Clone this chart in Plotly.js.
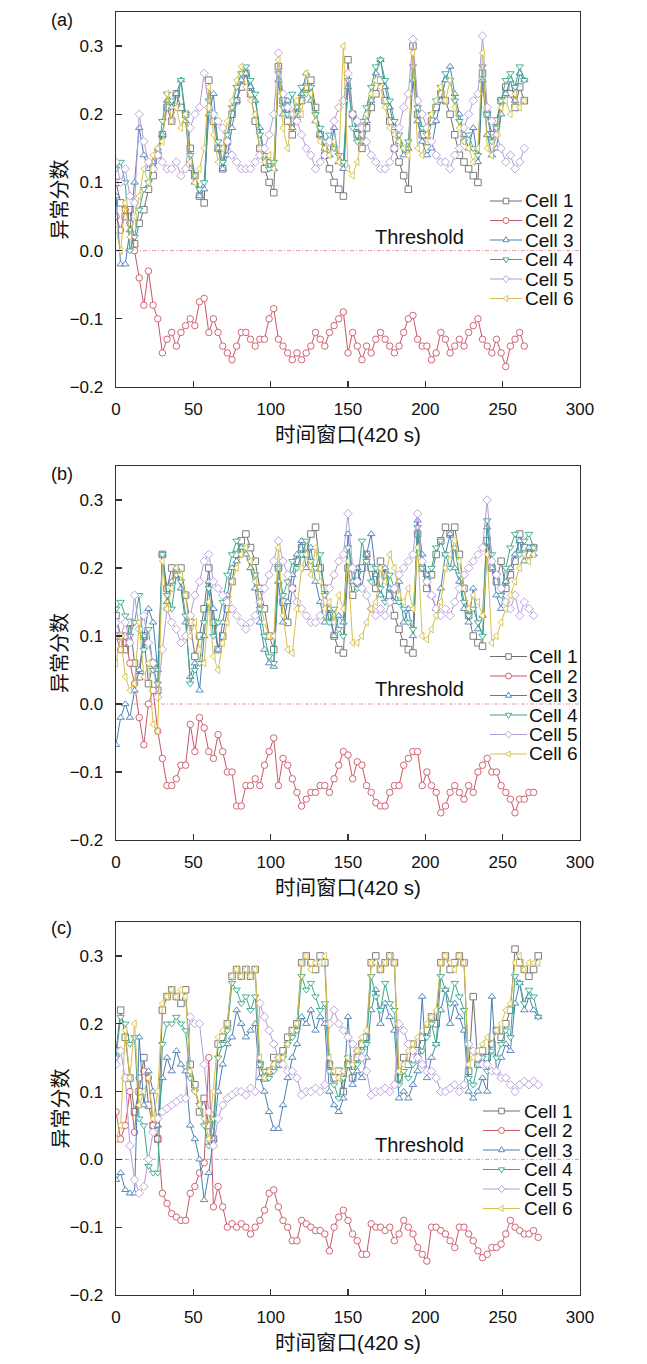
<!DOCTYPE html>
<html><head><meta charset="utf-8">
<script src="https://cdn.plot.ly/plotly-3.0.1.min.js"></script>
<style>html,body{margin:0;padding:0;background:#fff}#chart{width:647px;height:1364px}</style>
</head><body><div id="chart"></div>
<script>
// ---------- text / ticks ----------
const cellNames = ['Cell 1','Cell 2','Cell 3','Cell 4','Cell 5','Cell 6'];
const panelLabels = ['(a)','(b)','(c)'];
const xTitle = '时间窗口(420 s)';
const yTitle = '异常分数';
const thresholdLabel = 'Threshold';
const xTickVals = [0,50,100,150,200,250,300];
const yTickVals = [-0.2,-0.1,0,0.1,0.2,0.3];
const yTickText = ['\u22120.2','\u22120.1','0.0','0.1','0.2','0.3'];
const thresholdX = [0,300];
const thresholdY = [0,0];

// ---------- panel (a) ----------
const tA = [0,3,6,9,12,15,18,21,24,27,30,33,36,39,42,45,48,51,54,57,60,63,66,69,72,75,78,81,84,87,90,93,96,99,102,105,108,111,114,117,120,123,126,129,132,135,138,141,144,147,150,153,156,159,162,165,168,171,174,177,180,183,186,189,192,195,198,201,204,207,210,213,216,219,222,225,228,231,234,237,240,243,246,249,252,255,258,261,264];
const a1 = [0.10,0.07,0.05,0.06,0.01,0.04,0.06,0.09,0.11,0.14, 0.17,0.21,0.19,0.23,0.21,0.20,0.15,0.11,0.08,0.07, 0.25,0.19,0.15,0.12,0.16,0.20,0.22,0.24,0.26,0.23, 0.19,0.15,0.12,0.10,0.085,0.27,0.22,0.19,0.17,0.20, 0.22,0.24,0.25,0.21,0.17,0.14,0.12,0.10,0.09,0.08, 0.28,0.20,0.17,0.15,0.18,0.21,0.23,0.25,0.22,0.19, 0.15,0.13,0.11,0.09,0.30,0.20,0.17,0.16,0.19,0.21, 0.23,0.22,0.20,0.17,0.14,0.13,0.12,0.11,0.10,0.26, 0.20,0.17,0.19,0.22,0.24,0.23,0.21,0.24,0.22];
const a2 = [0.05,0.03,0.06,0.04,0.00,-0.04,-0.08,-0.03,-0.08,-0.10, -0.15,-0.13,-0.12,-0.14,-0.12,-0.11,-0.10,-0.11,-0.075,-0.07, -0.12,-0.10,-0.12,-0.14,-0.15,-0.16,-0.14,-0.12,-0.12,-0.13, -0.14,-0.13,-0.13,-0.10,-0.085,-0.13,-0.14,-0.15,-0.16,-0.15, -0.16,-0.15,-0.14,-0.12,-0.13,-0.14,-0.12,-0.11,-0.10,-0.09, -0.15,-0.12,-0.14,-0.16,-0.14,-0.15,-0.13,-0.12,-0.13,-0.14, -0.15,-0.14,-0.12,-0.10,-0.095,-0.13,-0.14,-0.14,-0.16,-0.15, -0.12,-0.13,-0.15,-0.14,-0.13,-0.14,-0.12,-0.11,-0.10,-0.13, -0.14,-0.15,-0.13,-0.15,-0.17,-0.14,-0.13,-0.12,-0.14];
const a3 = [0.08,-0.02,-0.02,0.03,0.10,0.18,0.14,0.12,0.13,0.15, 0.17,0.22,0.21,0.23,0.25,0.19,0.12,0.10,0.08,0.09, 0.20,0.23,0.15,0.12,0.14,0.18,0.22,0.25,0.26,0.24, 0.22,0.18,0.14,0.13,0.12,0.25,0.20,0.22,0.18,0.21, 0.23,0.26,0.22,0.19,0.17,0.15,0.14,0.18,0.13,0.12, 0.24,0.20,0.18,0.16,0.19,0.22,0.26,0.28,0.24,0.21, 0.18,0.16,0.14,0.15,0.25,0.19,0.16,0.14,0.15,0.19, 0.22,0.25,0.27,0.23,0.20,0.17,0.15,0.18,0.13,0.25, 0.17,0.14,0.15,0.20,0.23,0.25,0.22,0.26,0.25];
const a4 = [0.12,0.13,0.10,0.00,0.02,0.06,0.09,0.10,0.12,0.14, 0.19,0.23,0.22,0.21,0.25,0.20,0.14,0.11,0.09,0.10, 0.22,0.20,0.16,0.13,0.17,0.21,0.24,0.26,0.27,0.25, 0.23,0.17,0.14,0.12,0.13,0.26,0.21,0.20,0.23,0.19, 0.24,0.23,0.24,0.20,0.18,0.16,0.17,0.15,0.14,0.13, 0.25,0.18,0.16,0.19,0.21,0.24,0.27,0.28,0.25,0.22, 0.19,0.17,0.15,0.16,0.27,0.21,0.18,0.17,0.20,0.22, 0.24,0.26,0.25,0.22,0.19,0.16,0.17,0.15,0.14,0.27, 0.20,0.16,0.18,0.22,0.25,0.26,0.24,0.27,0.25];
const a5 = [0.13,0.10,0.12,0.08,0.07,0.20,0.16,0.13,0.12,0.14, 0.13,0.12,0.12,0.13,0.11,0.12,0.18,0.20,0.21,0.26, 0.21,0.20,0.19,0.18,0.16,0.14,0.13,0.12,0.12,0.12, 0.13,0.14,0.15,0.17,0.20,0.29,0.23,0.21,0.20,0.19, 0.17,0.15,0.14,0.12,0.13,0.14,0.16,0.19,0.21,0.22, 0.26,0.20,0.19,0.18,0.16,0.14,0.13,0.12,0.12,0.13, 0.15,0.18,0.21,0.23,0.31,0.22,0.20,0.18,0.16,0.14, 0.13,0.13,0.12,0.14,0.15,0.18,0.20,0.22,0.23,0.315, 0.21,0.19,0.17,0.15,0.13,0.14,0.12,0.13,0.15];
const a6 = [0.03,0.00,0.07,0.02,0.05,0.08,0.12,0.10,0.14,0.15, 0.16,0.23,0.19,0.21,0.18,0.20,0.13,0.10,0.12,0.15, 0.24,0.17,0.13,0.15,0.19,0.22,0.25,0.27,0.24,0.22, 0.20,0.15,0.13,0.14,0.12,0.28,0.18,0.15,0.20,0.22, 0.20,0.26,0.23,0.19,0.16,0.15,0.14,0.16,0.13,0.30, 0.12,0.11,0.13,0.17,0.20,0.23,0.25,0.24,0.21,0.18, 0.17,0.16,0.15,0.14,0.29,0.15,0.14,0.17,0.20,0.22, 0.24,0.22,0.25,0.21,0.18,0.16,0.15,0.13,0.15,0.29, 0.15,0.14,0.17,0.21,0.22,0.20,0.23,0.21,0.22];

// ---------- panel (b) ----------
const tB = [0,3,6,9,12,15,18,21,24,27,30,33,36,39,42,45,48,51,54,57,60,63,66,69,72,75,78,81,84,87,90,93,96,99,102,105,108,111,114,117,120,123,126,129,132,135,138,141,144,147,150,153,156,159,162,165,168,171,174,177,180,183,186,189,192,195,198,201,204,207,210,213,216,219,222,225,228,231,234,237,240,243,246,249,252,255,258,261,264,267,270];
const b1 = [0.13,0.10,0.08,0.12,0.06,0.04,0.10,0.03,0.06,0.02, 0.22,0.17,0.20,0.19,0.20,0.16,0.12,0.07,0.10,0.14, 0.20,0.12,0.08,0.10,0.14,0.18,0.22,0.24,0.25,0.23, 0.21,0.17,0.14,0.10,0.08,0.20,0.15,0.12,0.17,0.21, 0.23,0.22,0.25,0.26,0.20,0.17,0.13,0.10,0.08,0.075, 0.20,0.16,0.18,0.20,0.22,0.20,0.17,0.21,0.19,0.16, 0.13,0.11,0.09,0.08,0.075,0.25,0.20,0.17,0.19,0.22, 0.24,0.26,0.25,0.26,0.22,0.17,0.13,0.10,0.09,0.085, 0.24,0.20,0.18,0.21,0.17,0.19,0.21,0.25,0.23,0.22, 0.23];
const b2 = [0.10,0.08,0.10,0.06,0.03,-0.02,-0.06,0.00,0.02,-0.04, -0.08,-0.12,-0.12,-0.11,-0.09,-0.09,-0.03,-0.07,-0.02,-0.035, -0.07,-0.08,-0.045,-0.07,-0.10,-0.10,-0.15,-0.15,-0.12,-0.12, -0.11,-0.12,-0.09,-0.07,-0.05,-0.12,-0.08,-0.09,-0.11,-0.13, -0.15,-0.14,-0.13,-0.13,-0.12,-0.12,-0.13,-0.11,-0.09,-0.07, -0.075,-0.11,-0.085,-0.09,-0.12,-0.13,-0.145,-0.15,-0.15,-0.13, -0.12,-0.12,-0.09,-0.08,-0.07,-0.07,-0.12,-0.10,-0.12,-0.13, -0.16,-0.15,-0.13,-0.12,-0.13,-0.14,-0.12,-0.13,-0.10,-0.09, -0.08,-0.10,-0.10,-0.12,-0.13,-0.14,-0.16,-0.14,-0.14,-0.13, -0.13];
const b3 = [-0.06,-0.02,0.00,-0.02,0.02,0.05,0.10,0.14,0.12,0.05, 0.22,0.15,0.18,0.20,0.17,0.12,0.04,0.06,0.02,0.10, 0.18,0.14,0.08,0.12,0.16,0.20,0.21,0.23,0.22,0.20, 0.17,0.12,0.08,0.06,0.055,0.18,0.12,0.15,0.19,0.22, 0.24,0.20,0.23,0.18,0.15,0.12,0.14,0.10,0.13,0.12, 0.25,0.18,0.20,0.17,0.22,0.25,0.19,0.16,0.20,0.17, 0.15,0.18,0.12,0.14,0.10,0.27,0.22,0.19,0.16,0.14, 0.17,0.22,0.25,0.20,0.18,0.14,0.12,0.17,0.11,0.13, 0.26,0.20,0.16,0.14,0.18,0.20,0.22,0.24,0.21,0.23, 0.22];
const b4 = [0.14,0.15,0.13,0.10,0.12,0.16,0.08,0.11,0.05,0.03, 0.22,0.16,0.14,0.19,0.18,0.13,0.03,0.05,0.06,0.12, 0.17,0.10,0.12,0.15,0.19,0.22,0.24,0.22,0.23,0.21, 0.19,0.14,0.10,0.07,0.06,0.20,0.16,0.18,0.21,0.20, 0.22,0.24,0.21,0.20,0.22,0.16,0.12,0.14,0.11,0.10, 0.23,0.20,0.17,0.24,0.21,0.18,0.20,0.17,0.15,0.19, 0.17,0.15,0.14,0.12,0.11,0.26,0.20,0.18,0.20,0.23, 0.24,0.22,0.20,0.23,0.19,0.15,0.13,0.14,0.12,0.10, 0.27,0.22,0.19,0.16,0.20,0.23,0.25,0.22,0.24,0.25, 0.23];
const b5 = [0.12,0.10,0.12,0.09,0.16,0.11,0.13,0.09,0.06,0.01, 0.08,0.14,0.12,0.11,0.09,0.10,0.13,0.16,0.18,0.21, 0.22,0.18,0.17,0.16,0.15,0.14,0.13,0.12,0.11,0.12, 0.13,0.15,0.17,0.19,0.21,0.24,0.21,0.19,0.17,0.15, 0.14,0.13,0.12,0.12,0.13,0.15,0.17,0.19,0.21,0.22, 0.28,0.20,0.18,0.17,0.16,0.14,0.13,0.14,0.13,0.15, 0.17,0.19,0.20,0.21,0.22,0.28,0.21,0.18,0.16,0.14, 0.13,0.14,0.13,0.15,0.17,0.19,0.20,0.21,0.22,0.23, 0.30,0.21,0.19,0.17,0.15,0.14,0.16,0.13,0.15,0.14, 0.13];
const b6 = [0.06,0.10,0.04,0.02,0.03,0.12,0.04,0.06,-0.03,-0.04, 0.21,0.14,0.17,0.20,0.19,0.16,0.10,0.12,0.08,0.06, 0.15,0.07,0.05,0.09,0.12,0.18,0.20,0.22,0.23,0.21, 0.18,0.15,0.12,0.10,0.10,0.23,0.13,0.08,0.075,0.14, 0.20,0.22,0.19,0.23,0.18,0.14,0.15,0.12,0.16,0.14, 0.21,0.09,0.09,0.10,0.12,0.14,0.15,0.20,0.18,0.22, 0.20,0.16,0.15,0.17,0.14,0.23,0.10,0.095,0.11,0.13, 0.15,0.20,0.22,0.24,0.21,0.17,0.14,0.16,0.15,0.13, 0.22,0.09,0.10,0.12,0.14,0.16,0.18,0.20,0.22,0.21, 0.22];

// ---------- panel (c) ----------
const tC = [0,3,6,9,12,15,18,21,24,27,30,33,36,39,42,45,48,51,54,57,60,63,66,69,72,75,78,81,84,87,90,93,96,99,102,105,108,111,114,117,120,123,126,129,132,135,138,141,144,147,150,153,156,159,162,165,168,171,174,177,180,183,186,189,192,195,198,201,204,207,210,213,216,219,222,225,228,231,234,237,240,243,246,249,252,255,258,261,264,267,270,273];
const c1 = [0.16,0.22,0.18,0.12,0.07,0.10,0.15,0.08,0.05,0.03, 0.22,0.24,0.25,0.24,0.23,0.25,0.14,0.11,0.07,0.09, 0.05,0.03,0.17,0.18,0.20,0.27,0.28,0.27,0.28,0.27, 0.28,0.14,0.12,0.13,0.15,0.14,0.16,0.18,0.19,0.20, 0.29,0.30,0.29,0.28,0.30,0.29,0.14,0.12,0.13,0.10, 0.14,0.12,0.15,0.17,0.18,0.29,0.30,0.28,0.29,0.30, 0.29,0.12,0.15,0.14,0.17,0.16,0.18,0.19,0.21,0.20, 0.29,0.30,0.28,0.29,0.30,0.29,0.13,0.24,0.14,0.16, 0.15,0.17,0.19,0.18,0.20,0.22,0.31,0.29,0.28,0.27, 0.28,0.30];
const c2 = [0.07,0.03,0.05,0.10,0.04,0.12,0.13,0.12,0.05,0.03, -0.05,-0.065,-0.08,-0.085,-0.09,-0.09,-0.05,-0.04,-0.02,-0.005, 0.15,-0.07,-0.04,-0.07,-0.10,-0.095,-0.10,-0.095,-0.10,-0.11, -0.10,-0.09,-0.075,-0.05,-0.045,-0.07,-0.09,-0.10,-0.12,-0.12, -0.09,-0.095,-0.10,-0.105,-0.105,-0.11,-0.135,-0.10,-0.085,-0.075, -0.09,-0.11,-0.12,-0.14,-0.14,-0.095,-0.10,-0.10,-0.105,-0.10, -0.12,-0.11,-0.09,-0.10,-0.11,-0.13,-0.14,-0.15,-0.10,-0.10, -0.105,-0.11,-0.12,-0.13,-0.10,-0.10,-0.11,-0.12,-0.135,-0.145, -0.14,-0.13,-0.13,-0.125,-0.11,-0.09,-0.10,-0.105,-0.11,-0.11, -0.105,-0.115];
const c3 = [-0.03,-0.02,-0.045,-0.05,-0.05,0.18,0.08,0.13,0.10,0.05, 0.12,0.15,0.13,0.16,0.14,0.13,0.05,0.03,0.00,-0.06, -0.02,0.03,0.10,0.14,0.17,0.18,0.22,0.20,0.18,0.19, 0.20,0.12,0.10,0.07,0.045,0.045,0.08,0.12,0.15,0.17, 0.21,0.20,0.22,0.19,0.21,0.20,0.10,0.08,0.07,0.09, 0.21,0.11,0.13,0.12,0.15,0.22,0.25,0.20,0.23,0.21, 0.19,0.09,0.10,0.09,0.11,0.13,0.24,0.12,0.15,0.17, 0.22,0.25,0.20,0.23,0.21,0.19,0.10,0.09,0.10,0.12, 0.10,0.24,0.13,0.15,0.17,0.16,0.23,0.26,0.22,0.24, 0.22,0.21];
const c4 = [0.15,0.21,0.20,0.17,0.18,0.06,0.05,-0.01,-0.02,-0.02, 0.17,0.20,0.20,0.21,0.20,0.19,0.12,0.10,0.08,0.05, 0.02,0.06,0.15,0.17,0.19,0.26,0.25,0.23,0.24,0.22, 0.24,0.14,0.13,0.12,0.13,0.14,0.15,0.17,0.18,0.19, 0.27,0.25,0.26,0.24,0.22,0.23,0.13,0.11,0.09,0.12, 0.15,0.13,0.14,0.16,0.17,0.27,0.24,0.22,0.26,0.23, 0.22,0.11,0.13,0.12,0.14,0.15,0.16,0.18,0.20,0.17, 0.27,0.25,0.23,0.26,0.24,0.22,0.12,0.11,0.14,0.15, 0.13,0.16,0.15,0.17,0.19,0.18,0.27,0.26,0.23,0.25, 0.24,0.21];
const c5 = [0.14,0.16,0.12,0.02,-0.03,-0.05,-0.04,0.00,0.04,0.06, 0.07,0.075,0.08,0.085,0.09,0.09,0.21,0.20,0.20,0.14, 0.07,0.02,0.06,0.08,0.09,0.095,0.10,0.10,0.095,0.105, 0.10,0.23,0.21,0.19,0.17,0.15,0.14,0.13,0.13,0.12, 0.095,0.10,0.10,0.105,0.10,0.11,0.20,0.22,0.20,0.19, 0.18,0.17,0.16,0.15,0.13,0.095,0.10,0.10,0.105,0.10, 0.11,0.20,0.19,0.17,0.16,0.15,0.14,0.13,0.13,0.12, 0.10,0.10,0.105,0.11,0.10,0.11,0.17,0.16,0.15,0.14, 0.14,0.13,0.13,0.12,0.12,0.11,0.10,0.11,0.115,0.11, 0.115,0.11];
const c6 = [0.03,0.05,0.19,0.12,0.20,0.08,0.10,0.12,0.06,0.10, 0.23,0.24,0.25,0.24,0.25,0.24,0.13,0.10,0.08,0.06, 0.03,0.10,0.18,0.19,0.20,0.27,0.28,0.27,0.28,0.27, 0.28,0.15,0.12,0.13,0.14,0.15,0.15,0.17,0.19,0.20, 0.29,0.30,0.28,0.29,0.29,0.30,0.15,0.13,0.12,0.13, 0.15,0.14,0.16,0.18,0.19,0.29,0.29,0.28,0.29,0.30, 0.29,0.13,0.14,0.16,0.17,0.18,0.19,0.20,0.21,0.22, 0.29,0.30,0.29,0.28,0.30,0.29,0.14,0.15,0.16,0.17, 0.18,0.17,0.19,0.20,0.22,0.23,0.29,0.30,0.28,0.29, 0.29,0.29];

// ---------- styles ----------
const W = 647, H = 1364;
const colors = ['#6f6f6f','#cc5563','#4a7fb6','#3aa88c','#b59bd8','#d6c04a'];
const symbols = ['square','circle','triangle-up','triangle-down','diamond','triangle-left'];
const FONT = 'Liberation Sans, Arial, Noto Sans CJK SC, sans-serif';
const plotLeft = 116, plotRight = 580;
const panelPx = [[12,387],[466,840],[922,1295]]; // top,bottom px of each plot box
const legendPx = [
  {rows:[201,220.5,240,259.5,279,298.5], x0:490, x1:522, tx:523},
  {rows:[656.5,676,695.5,715,734.5,754], x0:490, x1:527, tx:527},
  {rows:[1111,1130.5,1150,1169.5,1189,1208.5], x0:483, x1:520, tx:522}
];
const thresholdPx = [237,689,1145];
const labelPx = [20,474,928];
const yTitleX = 60;
const px = x => x / W, py = y => 1 - y / H;

const panels = [
  {t:tA, ys:[a1,a2,a3,a4,a5,a6]},
  {t:tB, ys:[b1,b2,b3,b4,b5,b6]},
  {t:tC, ys:[c1,c2,c3,c4,c5,c6]}
];

const traces = [];
const layout = {
  width:W, height:H, margin:{l:0,r:0,t:0,b:0},
  paper_bgcolor:'#fff', plot_bgcolor:'#fff', showlegend:false, hovermode:false,
  font:{family:FONT, size:17, color:'#111'},
  annotations:[], shapes:[]
};

const markerPaths = {
  'square':'M-2.8,-2.8H2.8V2.8H-2.8Z',
  'triangle-up':'M0,3.4L3,-1.7L-3,-1.7Z',
  'triangle-down':'M0,-3.4L3,1.7L-3,1.7Z',
  'diamond':'M0,3.5L3.2,0L0,-3.5L-3.2,0Z',
  'triangle-left':'M-3.4,0L1.7,3L1.7,-3Z'
};

panels.forEach((p, k) => {
  const sfx = k === 0 ? '' : String(k + 1);
  const xa = 'x' + sfx, ya = 'y' + sfx;
  const [top, bot] = panelPx[k];
  layout['xaxis' + sfx] = {
    domain:[px(plotLeft), px(plotRight)], anchor:ya, range:[0,300],
    tickmode:'array', tickvals:xTickVals, ticks:'inside', ticklen:6, tickwidth:1.2, tickcolor:'#333',
    showline:true, mirror:true, linecolor:'#333', linewidth:1.4, showgrid:false, zeroline:false,
    tickfont:{size:17, family:FONT, color:'#111'}, ticklabelstandoff:6,
    title:{text:xTitle, font:{size:20.5, family:FONT, color:'#111'}, standoff:10}
  };
  layout['yaxis' + sfx] = {
    domain:[py(bot), py(top)], anchor:xa, range:[-0.2,0.35],
    tickmode:'array', tickvals:yTickVals, ticktext:yTickText, ticks:'inside', ticklen:6, tickwidth:1.2, tickcolor:'#333',
    showline:true, mirror:true, linecolor:'#333', linewidth:1.4, showgrid:false, zeroline:false,
    tickfont:{size:17, family:FONT, color:'#111'}, ticklabelstandoff:8
  };
  // y-axis title (placed as rotated text)
  layout.annotations.push({text:yTitle, textangle:-90, x:px(yTitleX), y:py((top + bot) / 2), xref:'paper', yref:'paper',
    xanchor:'center', yanchor:'middle', showarrow:false, font:{size:20, family:FONT, color:'#111'}});
  // threshold
  traces.push({x:thresholdX, y:thresholdY, xaxis:xa, yaxis:ya, mode:'lines',
    line:{color:'#e29aa6', width:1, dash:'4px,2px,1px,2px'}, hoverinfo:'skip'});
  // cells
  p.ys.forEach((y, i) => {
    traces.push({x:p.t, y:y, xaxis:xa, yaxis:ya, name:cellNames[i], mode:'lines+markers',
      line:{color:colors[i], width:1},
      marker:{symbol:symbols[i], size:6.5, color:'#fff', line:{color:colors[i], width:0.9}}});
  });
  // panel label
  layout.annotations.push({text:panelLabels[k], x:px(62), y:py(labelPx[k]), xref:'paper', yref:'paper',
    xanchor:'center', yanchor:'middle', showarrow:false, font:{size:18, family:FONT, color:'#111'}});
  // threshold label
  layout.annotations.push({text:thresholdLabel, x:px(419), y:py(thresholdPx[k]), xref:'paper', yref:'paper',
    xanchor:'center', yanchor:'middle', showarrow:false, font:{size:20, family:FONT, color:'#111'}});
  // legend
  const L = legendPx[k];
  L.rows.forEach((ry, i) => {
    layout.shapes.push({type:'line', xref:'paper', yref:'paper', x0:px(L.x0), x1:px(L.x1), y0:py(ry), y1:py(ry),
      line:{color:colors[i], width:1}});
    const cx = px((L.x0 + L.x1) / 2), cy = py(ry);
    if (symbols[i] === 'circle') {
      layout.shapes.push({type:'circle', xref:'paper', yref:'paper', xsizemode:'pixel', ysizemode:'pixel',
        xanchor:cx, yanchor:cy, x0:-3, x1:3, y0:-3, y1:3,
        fillcolor:'#fff', line:{color:colors[i], width:0.9}});
    } else {
      layout.shapes.push({type:'path', xref:'paper', yref:'paper', xsizemode:'pixel', ysizemode:'pixel',
        xanchor:cx, yanchor:cy, path:markerPaths[symbols[i]],
        fillcolor:'#fff', line:{color:colors[i], width:0.9}});
    }
    layout.annotations.push({text:cellNames[i], x:px(L.tx), y:py(ry), xref:'paper', yref:'paper',
      xanchor:'left', yanchor:'middle', showarrow:false, font:{size:19, family:FONT, color:'#111'}});
  });
});

Plotly.newPlot('chart', traces, layout, {staticPlot:true, displayModeBar:false});
</script></body></html>
